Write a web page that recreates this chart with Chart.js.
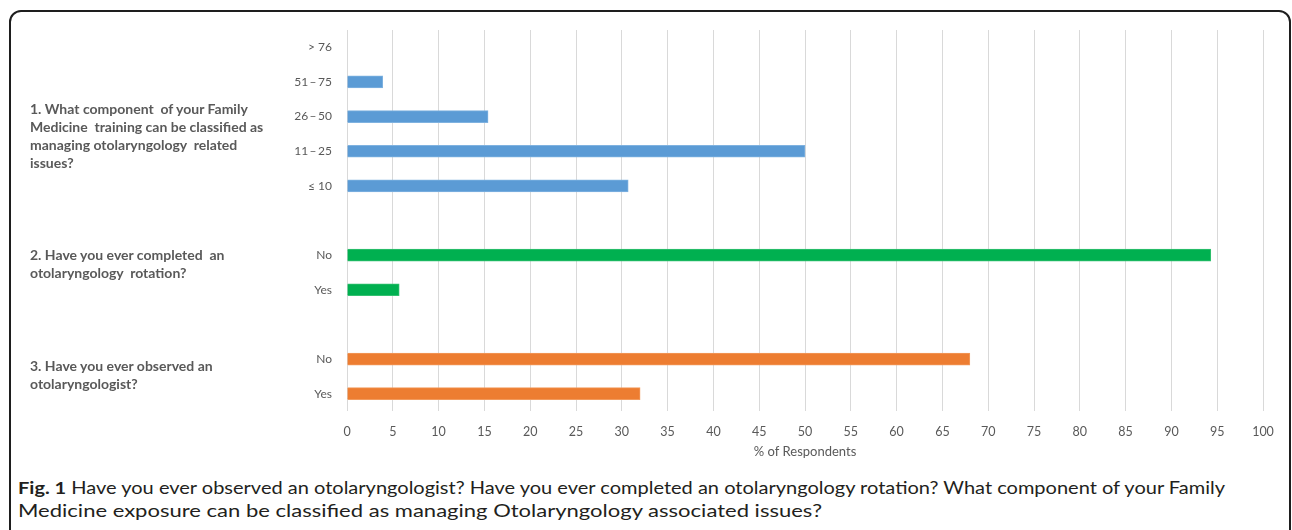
<!DOCTYPE html>
<html>
<head>
<meta charset="utf-8">
<script src="https://cdn.jsdelivr.net/npm/chart.js@4/dist/chart.umd.min.js"></script>
<style>
  html, body { margin: 0; padding: 0; background: #fff; }
  body { width: 1292px; height: 530px; position: relative; overflow: hidden; }
  .frame {
    position: absolute; left: 9px; top: 10px; width: 1278px; height: 560px;
    border: 2px solid #1e1e1e; border-radius: 12px;
  }
  #chart { position: absolute; left: 0; top: 0; }
  .q {
    position: absolute; left: 30px; font-family: Lato, "Open Sans", sans-serif;
    font-weight: bold; font-size: 14px; line-height: 18px; color: #595959;
    white-space: nowrap;
  }
  .caption {
    position: absolute; left: 18px; font-family: Lato, "Open Sans", sans-serif;
    font-size: 17.5px; color: #231f20; white-space: nowrap; transform-origin: 0 50%;
  }
  .caption b { font-weight: bold; }
</style>
</head>
<body>
<div class="frame"></div>
<canvas id="chart" width="1292" height="470"></canvas>

<div class="q" style="top:100px">1. What component&nbsp; of your Family<br>Medicine&nbsp; training can be classified as<br>managing otolaryngology&nbsp; related<br>issues?</div>
<div class="q" style="top:246px">2. Have you ever completed&nbsp; an<br>otolaryngology&nbsp; rotation?</div>
<div class="q" style="top:357px">3. Have you ever observed an<br>otolaryngologist?</div>

<div class="caption" id="cap1" style="top:477px"><b>Fig. 1</b> Have you ever observed an otolaryngologist? Have you ever completed an otolaryngology rotation? What component of your Family</div>
<div class="caption" id="cap2" style="top:500px">Medicine exposure can be classified as managing Otolaryngology associated issues?</div>

<script>
// Question 1: share of Family Medicine training spent on otolaryngology issues
const trainingLabels = ['> 76', '51\u2009\u2013\u200975', '26\u2009\u2013\u200950', '11\u2009\u2013\u200925', '\u2264 10'];
const trainingValues = [0, 3.9, 15.4, 50.0, 30.7];

// Question 2: completed an otolaryngology rotation
const rotationLabels = ['No', 'Yes'];
const rotationValues = [94.3, 5.7];

// Question 3: observed an otolaryngologist
const observedLabels = ['No', 'Yes'];
const observedValues = [68.0, 32.0];

const xTicks = { min: 0, max: 100, step: 5 };

// Build the category axis with an empty slot between question groups
const categories = [...trainingLabels, '', ...rotationLabels, '', ...observedLabels];
const pad = n => Array(n).fill(null);
const blueData = [...trainingValues, ...pad(1 + rotationLabels.length + 1 + observedLabels.length)];
const greenData = [...pad(trainingLabels.length + 1), ...rotationValues, ...pad(1 + observedLabels.length)];
const orangeData = [...pad(trainingLabels.length + 1 + rotationLabels.length + 1), ...observedValues];

const tickColor = '#595959';
const chartFont = 'Lato, "Open Sans", sans-serif';

new Chart(document.getElementById('chart'), {
  type: 'bar',
  data: {
    labels: categories,
    datasets: [
      { data: blueData, backgroundColor: '#5B9BD5', borderColor: '#7FB2E0', borderWidth: 1, borderSkipped: 'start' },
      { data: greenData, backgroundColor: '#00B050', borderColor: '#33C070', borderWidth: 1, borderSkipped: 'start' },
      { data: orangeData, backgroundColor: '#ED7D31', borderColor: '#F29A5C', borderWidth: 1, borderSkipped: 'start' }
    ]
  },
  options: {
    indexAxis: 'y',
    responsive: false,
    animation: false,
    devicePixelRatio: 1,
    layout: { padding: { left: 0, right: 29, top: 30, bottom: 0 } },
    datasets: { bar: { grouped: false, barThickness: 12 } },
    plugins: { legend: { display: false }, tooltip: { enabled: false } },
    scales: {
      x: {
        min: xTicks.min, max: xTicks.max,
        ticks: { stepSize: xTicks.step, color: tickColor, padding: 13, font: { family: chartFont, size: 12.5 } },
        grid: { color: '#D9D9D9', lineWidth: 1, drawTicks: false },
        border: { display: false },
        title: { display: true, text: '% of Respondents', color: tickColor, font: { family: chartFont, size: 13 }, padding: { top: 0, bottom: 10 } },
        afterFit: s => { s.height = 59; }
      },
      y: {
        ticks: { color: tickColor, padding: 15, font: { family: chartFont, size: 12 }, autoSkip: false },
        grid: { display: false, drawTicks: false },
        border: { display: false },
        afterFit: s => { s.width = 347; }
      }
    }
  }
});

// Fit the caption lines to the page width
const fit = (id, target) => {
  const el = document.getElementById(id);
  const w = el.getBoundingClientRect().width;
  el.style.transform = 'scaleX(' + (target / w) + ')';
};
fit('cap1', 1207);
fit('cap2', 804);
</script>
</body>
</html>
